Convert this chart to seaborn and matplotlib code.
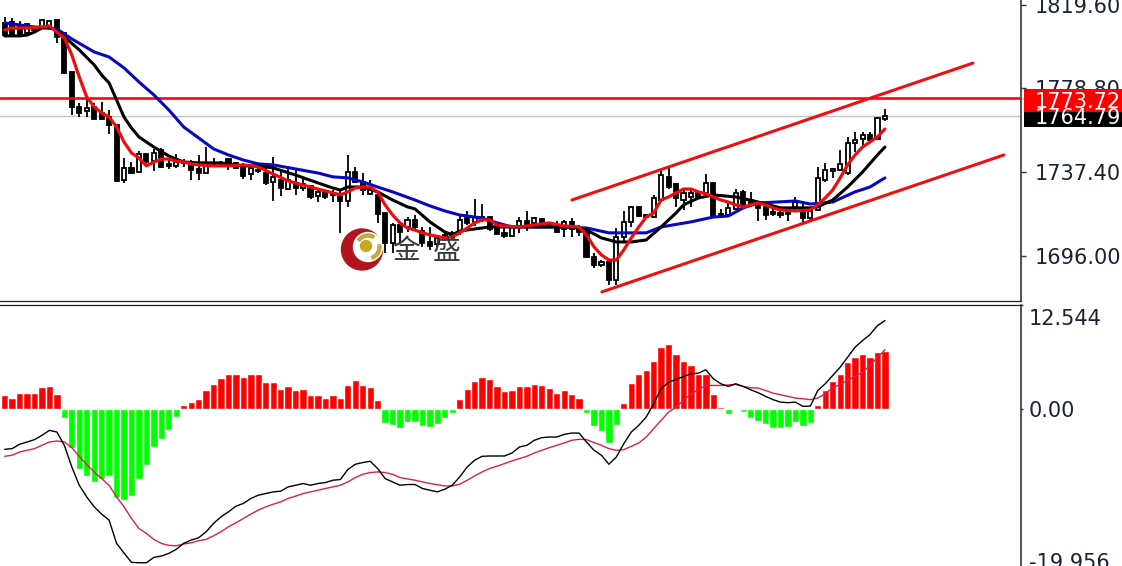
import pandas as pd
import matplotlib
matplotlib.use("Agg")
import matplotlib.pyplot as plt
from matplotlib.patches import Circle, Rectangle, Wedge
import seaborn as sns

# price candles, one entry per bar
opens = [1810.9, 1811.4, 1809.9, 1805.9, 1808.4, 1808.4, 1808.9, 1812.3, 1805.9, 1786.7,
         1769.5, 1767.5, 1769.5, 1766.5, 1764.5, 1760.6, 1733.5, 1739.4, 1737.4, 1746.3,
         1742.8, 1748.3, 1741.4, 1740.4, 1742.3, 1741.9, 1738.9, 1736.9, 1741.9, 1741.9,
         1743.8, 1741.9, 1739.9, 1736.4, 1738.4, 1736.9, 1732.5, 1733.5, 1729.0, 1732.0,
         1729.5, 1730.5, 1725.6, 1727.6, 1727.1, 1726.1, 1723.1, 1737.4, 1732.5, 1726.6,
         1726.1, 1717.2, 1702.4, 1711.3, 1710.3, 1713.8, 1708.3, 1702.9, 1701.9, 1706.4,
         1707.4, 1708.3, 1714.7, 1712.8, 1713.8, 1715.2, 1710.8, 1707.4, 1705.9, 1710.3,
         1713.3, 1712.3, 1714.3, 1712.3, 1710.3, 1709.3, 1712.8, 1709.8, 1707.8, 1695.5,
         1691.6, 1693.1, 1684.2, 1705.4, 1712.8, 1720.2, 1716.2, 1715.2, 1723.6, 1735.0,
         1731.5, 1723.6, 1725.1, 1727.1, 1727.1, 1732.0, 1716.7, 1716.2, 1719.2, 1727.6,
         1723.6, 1721.2, 1720.2, 1717.7, 1717.2, 1716.7, 1720.2, 1717.7, 1714.7, 1718.7,
         1733.5, 1737.9, 1738.4, 1736.9, 1751.7, 1753.7, 1755.7, 1753.7, 1763.5]
highs = [1813.8, 1813.3, 1811.8, 1810.4, 1808.9, 1812.3, 1811.8, 1812.3, 1805.9, 1786.7,
         1771.4, 1773.9, 1771.4, 1771.9, 1768.0, 1760.6, 1744.3, 1742.3, 1747.8, 1746.3,
         1748.8, 1749.3, 1743.3, 1746.3, 1743.8, 1743.3, 1745.8, 1749.7, 1744.3, 1742.8,
         1744.3, 1742.3, 1741.9, 1740.4, 1739.4, 1739.4, 1744.8, 1738.4, 1738.9, 1739.4,
         1734.5, 1731.0, 1729.5, 1728.5, 1728.5, 1728.5, 1745.8, 1739.9, 1736.9, 1733.5,
         1727.6, 1717.2, 1712.3, 1712.8, 1715.2, 1716.2, 1710.3, 1710.3, 1705.9, 1707.8,
         1708.3, 1716.2, 1718.2, 1724.1, 1721.6, 1715.2, 1711.3, 1709.8, 1710.3, 1715.2,
         1718.2, 1715.2, 1714.7, 1712.8, 1713.3, 1713.8, 1714.7, 1711.3, 1707.8, 1697.5,
         1694.0, 1693.1, 1709.8, 1718.2, 1720.2, 1720.7, 1716.7, 1726.1, 1738.4, 1739.4,
         1732.0, 1728.5, 1728.5, 1728.0, 1736.4, 1732.0, 1719.2, 1722.1, 1729.0, 1728.5,
         1727.6, 1722.6, 1722.1, 1720.2, 1719.2, 1718.7, 1725.1, 1722.1, 1719.7, 1739.9,
         1741.9, 1739.4, 1748.3, 1754.7, 1757.1, 1757.1, 1757.1, 1764.5, 1768.5]
lows = [1804.5, 1804.5, 1804.5, 1804.5, 1806.4, 1807.9, 1807.9, 1801.0, 1786.2, 1765.5,
        1764.5, 1764.5, 1763.5, 1763.5, 1756.2, 1732.5, 1732.0, 1736.4, 1736.9, 1740.9,
        1737.9, 1739.4, 1738.9, 1739.4, 1739.9, 1733.5, 1733.5, 1736.9, 1740.4, 1739.9,
        1738.4, 1738.9, 1734.0, 1733.5, 1736.9, 1731.0, 1723.1, 1725.6, 1728.5, 1726.1,
        1728.0, 1724.1, 1722.6, 1724.1, 1722.6, 1707.4, 1720.2, 1732.0, 1726.1, 1726.1,
        1712.3, 1697.5, 1697.5, 1702.9, 1707.8, 1709.3, 1700.5, 1699.0, 1700.5, 1703.4,
        1703.9, 1706.4, 1711.3, 1710.8, 1712.8, 1708.3, 1706.4, 1704.9, 1705.9, 1707.4,
        1708.3, 1710.3, 1709.8, 1710.3, 1707.4, 1705.4, 1705.4, 1705.9, 1695.0, 1690.1,
        1690.6, 1681.7, 1681.7, 1702.9, 1710.3, 1715.2, 1714.7, 1714.7, 1722.6, 1729.0,
        1720.2, 1718.7, 1720.2, 1724.6, 1726.1, 1715.2, 1715.2, 1715.2, 1718.7, 1719.7,
        1720.2, 1713.3, 1713.8, 1715.7, 1714.7, 1713.3, 1718.7, 1712.8, 1713.8, 1718.7,
        1732.5, 1734.5, 1737.9, 1735.9, 1747.3, 1749.7, 1752.2, 1753.2, 1762.6]
closes = [1804.9, 1804.5, 1804.9, 1810.4, 1807.4, 1812.3, 1811.8, 1804.0, 1786.2, 1769.5,
          1766.5, 1769.0, 1763.5, 1763.5, 1760.6, 1733.0, 1739.4, 1736.9, 1746.3, 1742.3,
          1746.8, 1739.9, 1740.4, 1742.3, 1741.9, 1738.4, 1736.9, 1741.9, 1741.4, 1740.9,
          1740.9, 1739.4, 1735.4, 1739.4, 1737.9, 1732.0, 1735.0, 1729.5, 1733.5, 1729.5,
          1731.5, 1725.1, 1727.6, 1725.1, 1726.1, 1723.1, 1737.4, 1732.5, 1728.5, 1728.5,
          1716.7, 1702.4, 1711.3, 1707.8, 1713.8, 1710.3, 1702.4, 1700.9, 1704.9, 1704.9,
          1705.4, 1713.8, 1712.3, 1715.2, 1715.2, 1709.3, 1706.9, 1705.9, 1710.3, 1713.3,
          1710.3, 1714.7, 1711.3, 1710.8, 1707.8, 1712.8, 1709.3, 1707.8, 1695.5, 1691.6,
          1693.1, 1684.2, 1705.4, 1712.8, 1720.2, 1715.7, 1715.2, 1724.6, 1735.9, 1730.0,
          1724.6, 1727.1, 1727.1, 1725.1, 1732.0, 1715.7, 1715.7, 1719.7, 1727.1, 1720.2,
          1721.2, 1719.7, 1716.2, 1716.7, 1716.2, 1717.7, 1722.6, 1714.7, 1718.2, 1734.5,
          1738.4, 1738.9, 1741.4, 1751.7, 1753.2, 1755.7, 1753.2, 1764.0, 1765.0]

# moving averages on the price panel
red_x = [0, 1, 3, 5, 6, 7, 8, 9, 10, 11, 12, 13, 14, 15, 16, 17, 18, 19, 20, 21, 22, 23, 24, 25, 26,
         28, 30, 32, 34, 36, 38, 40, 42, 44, 45, 46, 47, 48, 49, 50, 51, 52, 53, 54, 55, 56, 57, 59,
         60, 61, 62, 63, 64, 65, 66, 67, 69, 71, 73, 75, 77, 78, 79, 80, 81, 82, 83, 84, 85, 86, 87,
         88, 89, 90, 91, 92, 93, 94, 95, 96, 97, 98, 99, 100, 101, 102, 103, 104, 106, 108, 109,
         110, 111, 112, 113, 114, 115, 116, 117, 118]
red_ma = [1807.4, 1808.4, 1808.4, 1808.9, 1809.4, 1806.4, 1803.5, 1795.1, 1784.2, 1774.4, 1769.5,
          1766.5, 1764.5, 1759.6, 1752.2, 1746.8, 1744.3, 1740.4, 1742.3, 1743.8, 1743.8, 1742.8,
          1742.3, 1741.4, 1740.9, 1740.4, 1740.4, 1740.9, 1739.9, 1736.4, 1733.0, 1731.0, 1729.0,
          1727.1, 1726.1, 1727.6, 1729.5, 1730.0, 1730.0, 1727.6, 1721.2, 1716.2, 1712.3, 1709.8,
          1708.8, 1707.4, 1706.4, 1704.9, 1705.4, 1707.4, 1709.8, 1712.3, 1713.8, 1713.8, 1711.3,
          1710.8, 1710.3, 1711.3, 1712.3, 1710.8, 1710.3, 1706.4, 1700.5, 1696.5, 1694.0, 1694.0,
          1699.0, 1704.9, 1710.3, 1715.2, 1717.2, 1723.6, 1725.1, 1727.1, 1729.0, 1729.0, 1727.6,
          1726.6, 1725.1, 1723.6, 1722.6, 1721.2, 1720.2, 1721.2, 1722.1, 1721.2, 1719.7, 1718.7,
          1718.2, 1718.7, 1721.2, 1724.6, 1728.5, 1734.5, 1740.9, 1745.8, 1749.7, 1752.2, 1754.7,
          1758.6]
black_x = [0, 2, 3, 4, 5, 6, 7, 8, 10, 12, 13, 14, 15, 16, 17, 18, 20, 22, 24, 26, 29, 32, 34, 36,
           39, 42, 44, 45, 46, 48, 50, 52, 54, 55, 57, 59, 60, 61, 63, 65, 67, 71, 76, 78, 80, 82,
           84, 86, 88, 90, 91, 93, 95, 98, 101, 104, 108, 109, 111, 113, 115, 117, 118]
black_ma = [1804.5, 1804.5, 1804.9, 1806.4, 1808.4, 1808.9, 1806.9, 1804.0, 1797.6, 1790.2, 1785.2,
            1781.3, 1772.9, 1764.5, 1759.1, 1754.7, 1749.7, 1745.3, 1742.3, 1741.9, 1741.9, 1740.4,
            1740.4, 1739.4, 1735.9, 1732.0, 1729.5, 1728.5, 1730.0, 1730.0, 1727.6, 1723.6, 1720.2,
            1719.2, 1712.8, 1707.8, 1706.4, 1708.3, 1709.3, 1710.3, 1710.3, 1710.3, 1710.3, 1708.8,
            1704.9, 1702.9, 1702.9, 1703.9, 1710.3, 1717.2, 1721.2, 1724.6, 1726.1, 1725.1, 1722.6,
            1719.7, 1719.7, 1720.2, 1723.6, 1730.0, 1737.4, 1745.8, 1749.7]
blue_x = [0, 4, 7, 9, 12, 14, 16, 18, 20, 22, 24, 26, 28, 30, 32, 34, 36, 39, 42, 44, 46, 48, 50,
          52, 55, 57, 59, 61, 64, 66, 68, 71, 75, 78, 81, 86, 88, 92, 95, 97, 99, 101, 106, 108,
          111, 114, 116, 118]
blue_ma = [1810.9, 1808.9, 1807.9, 1803.0, 1796.6, 1794.1, 1788.7, 1781.8, 1775.4, 1768.0, 1759.6,
           1754.2, 1748.8, 1745.8, 1743.3, 1741.4, 1740.9, 1738.9, 1736.9, 1735.0, 1734.5, 1732.5,
           1730.0, 1727.6, 1723.6, 1720.7, 1718.2, 1716.2, 1714.7, 1712.3, 1710.3, 1710.3, 1710.3,
           1709.8, 1707.4, 1707.4, 1710.3, 1712.8, 1715.2, 1715.7, 1719.7, 1722.1, 1723.1, 1721.6,
           1722.6, 1727.6, 1730.0, 1734.5]

# hand drawn trend channel and the two price levels
upper_x = [76.05, 129.8]
upper_y = [1723.6, 1791.1]
lower_x = [80.07, 133.96]
lower_y = [1678.3, 1745.8]
level_price = 1773.72
last_price = 1764.79

price_ticks = [1819.60, 1778.80, 1737.40, 1696.00]
price_labels = ["1819.60", "1778.80", "1737.40", "1696.00"]

# MACD panel
macd_hist = [1.94, 1.55, 2.2, 2.2, 2.2, 2.96, 3.1, 2.08, -1.15, -5.2, -7.87, -8.89, -9.64, -9.2,
             -8.89, -11.85, -12.07, -11.5, -9.29, -7.43, -5.0, -3.98, -2.79, -1.02, 0.53, 0.97,
             1.42, 2.61, 3.41, 4.11, 4.64, 4.64, 4.29, 4.64, 4.64, 3.62, 3.62, 2.74, 3.1, 2.61,
             2.74, 1.86, 1.86, 1.55, 1.86, 1.55, 3.27, 3.85, 3.27, 2.96, 1.19, -1.81, -2.12, -2.43,
             -1.68, -1.68, -2.21, -2.35, -1.9, -1.15, -0.44, 1.42, 2.74, 3.76, 4.29, 3.98, 3.1,
             2.39, 2.61, 3.1, 3.1, 3.41, 3.27, 2.88, 2.21, 2.61, 2.08, 1.55, -0.44, -2.21, -2.88,
             -4.47, -2.03, 0.84, 3.49, 4.64, 5.18, 6.37, 8.27, 8.63, 7.39, 6.5, 5.84, 4.73, 4.73,
             2.08, 0.31, -0.57, -0.1, -0.35, -1.15, -1.55, -1.99, -2.43, -2.52, -2.35, -1.68,
             -2.21, -1.82, 0.62, 2.61, 3.76, 4.64, 6.28, 7.03, 7.39, 7.03, 7.6, 7.83]
macd_main = [-5.31, -5.22, -4.64, -4.34, -4.02, -3.45, -2.79, -3.01, -4.78, -7.66, -10.09, -11.64,
             -12.96, -13.93, -14.73, -17.82, -19.11, -20.34, -20.4, -20.4, -19.68, -19.51, -19.15,
             -18.62, -17.82, -17.38, -17.08, -16.28, -15.17, -14.29, -13.63, -12.87, -12.51, -11.85,
             -11.41, -11.19, -10.97, -10.88, -10.31, -10.09, -9.86, -10.09, -9.86, -9.73, -9.42,
             -9.33, -8.0, -7.3, -7.07, -6.9, -7.87, -9.2, -9.65, -10.09, -9.99, -9.99, -10.52,
             -10.75, -10.97, -10.62, -10.09, -8.98, -7.66, -6.77, -6.24, -6.2, -6.2, -6.2, -5.8,
             -5.0, -4.78, -4.11, -3.76, -3.68, -3.68, -3.32, -3.15, -3.15, -4.34, -5.44, -6.1,
             -7.3, -6.33, -4.55, -3.01, -2.12, -1.02, 0.76, 2.75, 3.62, 3.98, 4.38, 4.74, 4.82,
             5.27, 4.07, 3.41, 3.05, 3.41, 3.05, 2.61, 2.22, 1.73, 1.29, 0.97, 0.89, 0.97, 0.4,
             0.44, 2.52, 3.41, 4.51, 5.61, 6.94, 8.27, 9.16, 9.95, 11.15, 11.81]
signal_x = [0, 1, 2, 3, 4, 5, 6, 7, 8, 9, 10, 11, 12, 13, 14, 15, 16, 17, 18, 19, 20, 21, 22, 23,
            24, 25, 26, 27, 28, 29, 30, 31, 32, 33, 34, 35, 36, 37, 38, 39, 40, 41, 42, 43, 44,
            45, 46, 47, 48, 49, 50, 51, 52, 53, 55, 57, 59, 60, 61, 62, 63, 64, 65, 66, 67, 68,
            69, 70, 71, 72, 73, 74, 75, 76, 77, 78, 79, 80, 81, 82, 83, 84, 85, 86, 87, 88, 89,
            90, 91, 92, 93, 94, 95, 96, 98, 99, 100, 101, 102, 103, 104, 105, 106, 107, 108, 109,
            110, 111, 112, 113, 114, 115, 116, 117, 118]
signal_line = [-6.24, -6.1, -5.67, -5.44, -5.22, -4.78, -4.34, -4.21, -4.34, -5.09, -6.24, -7.34,
               -8.32, -9.2, -10.09, -11.64, -12.96, -14.51, -15.84, -16.5, -17.29, -17.82, -18.09,
               -18.14, -17.91, -17.74, -17.47, -17.29, -16.81, -16.28, -15.62, -15.09, -14.51,
               -13.93, -13.4, -12.96, -12.61, -12.3, -11.85, -11.54, -11.19, -10.97, -10.75,
               -10.52, -10.31, -10.09, -9.65, -9.07, -8.63, -8.4, -8.32, -8.4, -8.63, -9.07, -9.42,
               -9.86, -10.18, -10.18, -9.95, -9.42, -8.85, -8.32, -7.87, -7.56, -7.21, -6.86,
               -6.54, -6.24, -5.8, -5.44, -5.09, -4.78, -4.47, -4.11, -3.98, -4.02, -4.42, -4.78,
               -5.22, -5.44, -5.35, -4.91, -4.47, -3.68, -2.56, -1.46, -0.36, 0.31, 1.19, 2.08,
               2.61, 3.18, 3.18, 3.18, 3.32, 3.05, 2.88, 2.83, 2.52, 2.16, 1.95, 1.73, 1.5, 1.42,
               1.29, 1.5, 2.08, 2.88, 3.32, 3.85, 4.38, 4.95, 5.84, 6.94, 7.92]
macd_top_label = 12.544
macd_bottom_label = -19.956

W, H = 1122, 566
INK = "#1a2233"

sns.set_style("white")
plt.rcParams["font.family"] = ["DejaVu Sans"]

fig = plt.figure(figsize=(W / 100, H / 100), dpi=100)
ax1 = fig.add_axes([0, (H - 301) / H, 1021 / W, 301 / H])
ax2 = fig.add_axes([0, 0, 1021 / W, (H - 304.5) / H])

# candles
bars = list(range(len(opens)))
body_low = [min(o, c) for o, c in zip(opens, closes)]
body_size = [abs(o - c) for o, c in zip(opens, closes)]
body_color = ["black" if c < o else "white" for o, c in zip(opens, closes)]
ax1.vlines(bars, lows, highs, color="black", lw=1.3, zorder=2)
ax1.bar(bars, body_size, bottom=body_low, width=0.55, color=body_color,
        edgecolor="black", linewidth=1.3, zorder=3)

sns.lineplot(x=blue_x, y=blue_ma, color="#0808c0", linewidth=2.2, estimator=None, ax=ax1, zorder=5)
sns.lineplot(x=black_x, y=black_ma, color="black", linewidth=2.2, estimator=None, ax=ax1, zorder=5)
sns.lineplot(x=red_x, y=red_ma, color="#ee0c0c", linewidth=2.3, estimator=None, ax=ax1, zorder=6)

ax1.axhline(level_price, color="#ee0c0c", lw=1.9, zorder=4)
ax1.axhline(last_price, color="#c4c4c4", lw=1.0, zorder=1)
sns.lineplot(x=upper_x, y=upper_y, color="#ee1010", linewidth=2.2, estimator=None, ax=ax1, zorder=6)
sns.lineplot(x=lower_x, y=lower_y, color="#ee1010", linewidth=2.2, estimator=None, ax=ax1, zorder=6)

ax1.set_xlim(-0.626, 136.24)
ax1.set_ylim(1673.8, 1822.2)
ax1.set_xticks([])
ax1.yaxis.tick_right()
ax1.set_yticks(price_ticks)
ax1.set_yticklabels(price_labels, fontsize=15, color=INK)
ax1.tick_params(axis="y", right=True, length=3.6, width=1.0, color="#333333", pad=6.2)

# macd histogram
hist_df = pd.DataFrame({"bar": bars, "value": macd_hist})
hist_df["sign"] = ["up" if v > 0 else "down" for v in macd_hist]
sns.barplot(data=hist_df, x="bar", y="value", hue="sign", palette={"up": "#ff0000", "down": "#00ff00"},
            native_scale=True, dodge=False, width=0.98, saturation=1, errorbar=None, legend=False,
            ax=ax2, zorder=2)
sns.lineplot(x=bars, y=macd_main, color="black", linewidth=1.0, estimator=None, ax=ax2, zorder=4)
sns.lineplot(x=signal_x, y=signal_line, color="#d8204e", linewidth=1.0, estimator=None, ax=ax2, zorder=3)

ax2.set_xlim(-0.626, 136.24)
ax2.set_ylim(-20.83, 13.95)
ax2.set_xticks([])
ax2.yaxis.tick_right()
ax2.set_yticks([0, 13.85])
ax2.set_yticklabels(["0.00", ""], fontsize=15, color=INK)
ax2.tick_params(axis="y", right=True, length=1.6, width=1.0, color="#333333", pad=3.6)
for val, txt in [(macd_top_label, "12.544"), (macd_bottom_label, "-19.956")]:
    ax2.annotate(txt, xy=(1, val), xycoords=ax2.get_yaxis_transform(), xytext=(5.8, -2.9),
                 textcoords="offset points", fontsize=15, color=INK, va="center", ha="left",
                 annotation_clip=False)

for ax in (ax1, ax2):
    ax.set_xlabel("")
    ax.set_ylabel("")
    ax.patch.set_alpha(0)
    for side in ("left", "top", "bottom", "right"):
        ax.spines[side].set_visible(False)
    ax.spines["right"].set_visible(True)
    ax.spines["right"].set_color("#222222")
    ax.spines["right"].set_linewidth(1.1)
ax1.spines["bottom"].set_visible(True)
ax1.spines["bottom"].set_color("#222222")
ax1.spines["bottom"].set_linewidth(0.9)
ax2.spines["top"].set_visible(True)
ax2.spines["top"].set_color("#222222")
ax2.spines["top"].set_linewidth(0.9)

# current price flags on the right scale
fig.add_artist(Rectangle((1024 / W, (H - 112) / H), 98 / W, 23 / H, transform=fig.transFigure,
                         facecolor="#ff0000", edgecolor="none", zorder=5))
fig.add_artist(Rectangle((1024 / W, (H - 127) / H), 98 / W, 15 / H, transform=fig.transFigure,
                         facecolor="black", edgecolor="none", zorder=5))
fig.text(1035 / W, (H - 102) / H, "1773.72", color="white", fontsize=15, va="center", ha="left", zorder=6)
fig.text(1035 / W, (H - 118) / H, "1764.79", color="white", fontsize=15, va="center", ha="left", zorder=6)

# watermark logo
logo = fig.add_axes([338 / W, (H - 273) / H, 48 / W, 48 / H], zorder=-1)
logo.set_xlim(338, 386)
logo.set_ylim(273, 225)
logo.axis("off")
logo.add_patch(Circle((362, 249.5), 20.5, color="#b3141c"))
logo.add_patch(Circle((368, 247), 14.5, color="white"))
logo.add_patch(Wedge((368, 247), 13, 215, 300, width=3, color="#c8a83c"))
logo.add_patch(Wedge((368, 247), 13, 350, 70, width=3, color="#c8a83c"))
logo.add_patch(Circle((366, 246), 5.5, color="#c9a820"))
fig.text(406 / W, (H - 251) / H, "金", family=["Noto Sans CJK SC", "DejaVu Sans"], fontsize=20,
         color="#3a3a3a", va="center", ha="center", zorder=6)
fig.text(447 / W, (H - 251) / H, "盛", family=["Noto Sans CJK SC", "DejaVu Sans"], fontsize=20,
         color="#3a3a3a", va="center", ha="center", zorder=6)

fig.savefig("out.png", dpi=100)
